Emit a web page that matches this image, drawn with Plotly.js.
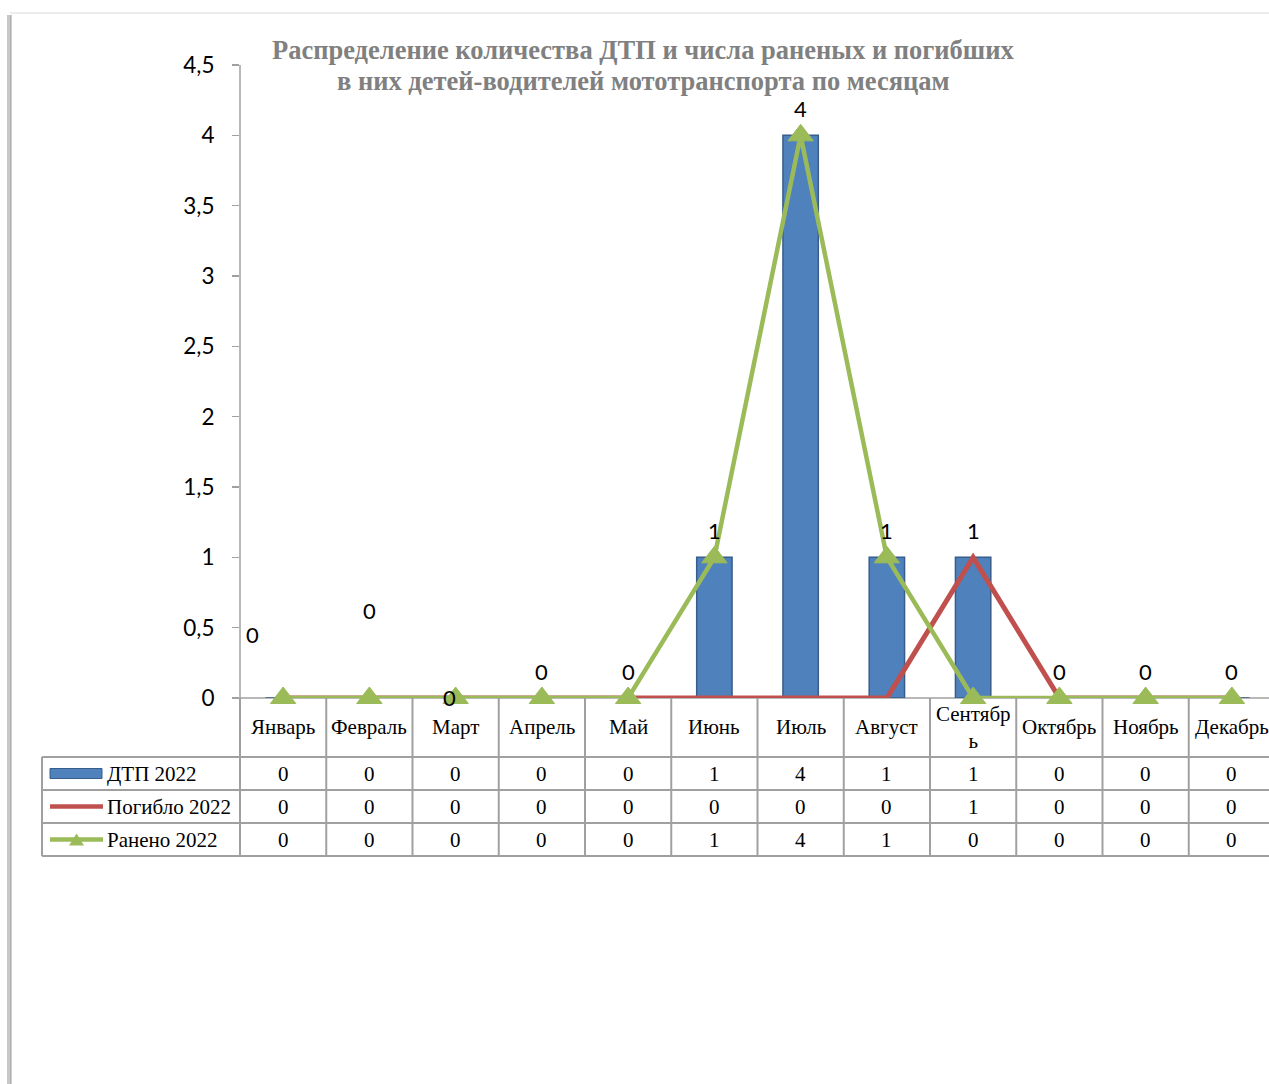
<!DOCTYPE html>
<html>
<head>
<meta charset="utf-8">
<script src="https://cdn.plot.ly/plotly-3.0.1.min.js"></script>
<style>
html,body{margin:0;padding:0;overflow:hidden;background:#fff;}
#chart{width:1290px;height:1084px;}
</style>
</head>
<body>
<div id="chart"></div>
<script>
// ---- data ----
const categories = ['Январь','Февраль','Март','Апрель','Май','Июнь','Июль','Август','Сентябрь','Октябрь','Ноябрь','Декабрь'];
const dtp2022 = [0,0,0,0,0,1,4,1,1,0,0,0];
const died2022 = [0,0,0,0,0,0,0,0,1,0,0,0];
const injured2022 = [0,0,0,0,0,1,4,1,0,0,0,0];
const seriesNames = ['ДТП 2022','Погибло 2022','Ранено 2022'];
const yTickValues = [0,0.5,1,1.5,2,2.5,3,3.5,4,4.5];
const titleLines = ['Распределение количества ДТП и числа раненых и погибших','в них детей-водителей мототранспорта по месяцам'];

// ---- style / layout helpers ----
const BLUE = '#4F81BD', RED = '#C0504D', GREEN = '#9BBB59';
const GRID = '#a0a0a0';
const L = 240, R = 1275, T = 65, B = 698;
const W = R - L, H = B - T;
const px = x => (x - L) / W;
const py = y => (B - y) / H;
const catW = W / categories.length;
const rowTops = [757, 790, 823, 856];
const tableLeft = 42;
// per-label manual shifts (dx, dy in px) for the ДТП data labels
const labelShift = [[-31,-37],[0,-61],[-6,26],[0,0],[0,0],[0,0],[0,0],[0,0],[0,0],[0,0],[0,0],[0,0]];
const titleY = [50, 81];

const serif = 'Liberation Serif, Times New Roman, serif';
const sans = 'Lato, Carlito, Calibri, sans-serif';

const traces = [
  {type:'bar', x:categories.map((c,i)=>i), y:dtp2022, name:seriesNames[0], width:0.41,
   marker:{color:BLUE, line:{color:'#385D8A', width:1.5}}, hoverinfo:'skip'},
  {type:'scatter', mode:'lines', x:categories.map((c,i)=>i), y:died2022, name:seriesNames[1], cliponaxis:false,
   line:{color:RED, width:5}, hoverinfo:'skip'},
  {type:'scatter', mode:'lines+markers', x:categories.map((c,i)=>i), y:injured2022, name:seriesNames[2], cliponaxis:false,
   line:{color:GREEN, width:4.5}, marker:{symbol:'triangle-up', size:22, color:GREEN, line:{color:GREEN, width:1}}, hoverinfo:'skip'}
];

const shapes = [];
const annotations = [];
const line = (x0,y0,x1,y1,color,width) => shapes.push({type:'line', xref:'paper', yref:'paper', layer:'below',
  x0:px(x0), y0:py(y0), x1:px(x1), y1:py(y1), line:{color:color, width:width}});

// chart frame
line(10, 13, 1300, 13, '#d9d9d9', 1);
line(9, 15, 9, 1100, '#c8c8c8', 4);
line(11, 15, 11, 1100, '#9a9a9a', 1);

// y axis line
line(L, T, L, B, GRID, 1.5);
// table grid
line(L, B, R + 20, B, GRID, 1.5);
rowTops.forEach(y => line(tableLeft, y, R + 20, y, GRID, 2));
line(tableLeft, rowTops[0], tableLeft, rowTops[3], GRID, 2);
for (let k = 0; k <= categories.length; k++) {
  const x = L + k * catW;
  line(x, B, x, rowTops[3], GRID, 2);
}

// category labels
categories.forEach((c, i) => {
  const txt = c.length > 7 ? c.slice(0,7) + '<br>' + c.slice(7) : c;
  annotations.push({xref:'paper', yref:'paper', x:px(L + (i+0.5)*catW), y:py(727),
    text:txt, showarrow:false, xanchor:'center', yanchor:'middle',
    font:{family:serif, size:21, color:'#000'}});
});

// table values
[dtp2022, died2022, injured2022].forEach((arr, r) => {
  const yc = (rowTops[r] + rowTops[r+1]) / 2;
  arr.forEach((v, i) => {
    annotations.push({xref:'paper', yref:'paper', x:px(L + (i+0.5)*catW), y:py(yc),
      text:String(v), showarrow:false, xanchor:'center', yanchor:'middle',
      font:{family:serif, size:21, color:'#000'}});
  });
  annotations.push({xref:'paper', yref:'paper', x:px(105), y:py(yc),
    text:seriesNames[r], showarrow:false, xanchor:'left', yanchor:'middle',
    font:{family:serif, size:21, color:'#000'}});
});

// legend keys
const yk = rowTops.slice(0,3).map((t,r)=>(t + rowTops[r+1])/2);
shapes.push({type:'rect', xref:'paper', yref:'paper', x0:px(50), x1:px(102), y0:py(yk[0]-5), y1:py(yk[0]+5),
  fillcolor:BLUE, line:{color:'#385D8A', width:1}});
line(50, yk[1], 103, yk[1], RED, 4.5);
line(50, yk[2], 103, yk[2], GREEN, 4.5);
shapes.push({type:'path', xref:'paper', yref:'paper',
  path:`M ${px(69)} ${py(yk[2]+6)} L ${px(84)} ${py(yk[2]+6)} L ${px(76.5)} ${py(yk[2]-6)} Z`,
  fillcolor:GREEN, line:{width:0}});

// data labels for ДТП
dtp2022.forEach((v, i) => {
  annotations.push({xref:'x', yref:'y', x:i, y:v, text:String(v), showarrow:false,
    xanchor:'center', yanchor:'middle', xshift:labelShift[i][0], yshift:27 - labelShift[i][1],
    font:{family:sans, size:22, color:'#000'}});
});

// title
titleLines.forEach((t, k) => {
  annotations.push({xref:'paper', yref:'paper', x:px(643), y:py(titleY[k]), text:t,
    showarrow:false, xanchor:'center', yanchor:'middle',
    font:{family:serif, size:26.5, color:'#808080', weight:'bold'}});
});

const layout = {
  width:1290, height:1084,
  margin:{l:L, r:1290 - R, t:T, b:1084 - B, pad:0},
  paper_bgcolor:'#fff', plot_bgcolor:'rgba(0,0,0,0)',
  separators:', ',
  showlegend:false,
  barmode:'overlay',
  xaxis:{range:[-0.5, categories.length - 0.5], showticklabels:false, ticks:'', showgrid:false,
    zeroline:false, showline:false, fixedrange:true},
  yaxis:{range:[0, 4.5], tickvals:yTickValues, ticks:'outside', ticklen:7, tickcolor:GRID, tickwidth:1.5,
    showgrid:false, zeroline:false, showline:false, ticklabelstandoff:13,
    tickfont:{family:sans, size:22.5, color:'#000'}, fixedrange:true},
  shapes:shapes,
  annotations:annotations
};

Plotly.newPlot('chart', traces, layout, {staticPlot:true, displayModeBar:false});
</script>
</body>
</html>
